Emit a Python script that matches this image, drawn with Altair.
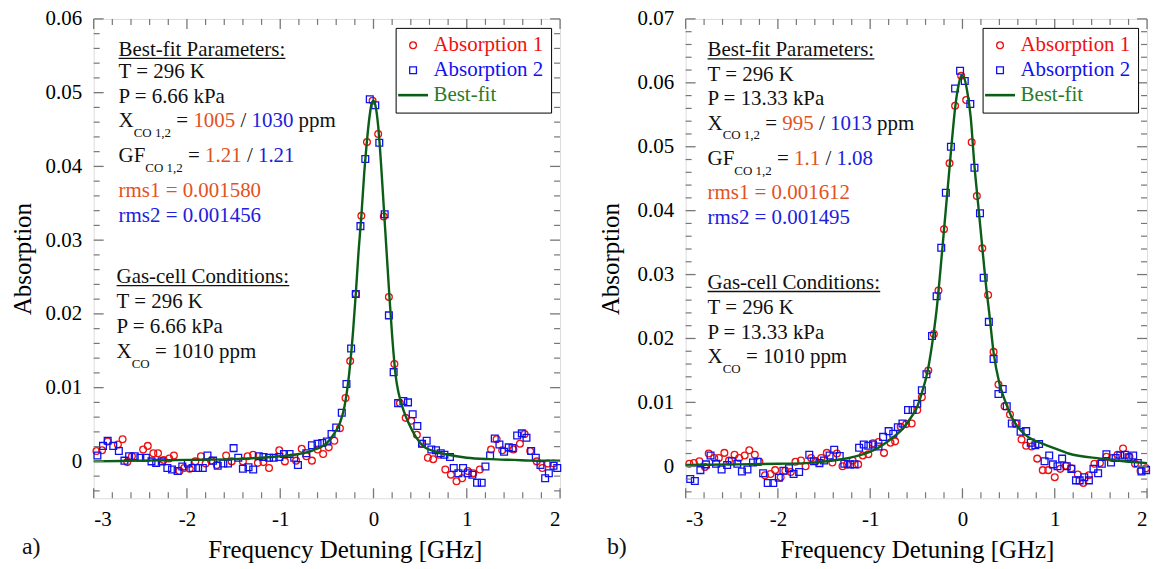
import altair as alt
import pandas as pd

# ---------------- data ----------------
# Panel a)  P = 6.66 kPa
a_abs1_x = [-2.97, -2.91, -2.85, -2.74, -2.69, -2.64, -2.59, -2.47, -2.42, -2.36, -2.31, -2.25, -2.19, -2.14,
            -2.08, -2.03, -1.97, -1.91, -1.85, -1.80, -1.74, -1.68, -1.58, -1.52, -1.40, -1.35, -1.29, -1.24,
            -1.18, -1.12, -1.01, -0.95, -0.83, -0.77, -0.72, -0.66, -0.60, -0.54, -0.48, -0.42, -0.36, -0.30,
            -0.25, -0.19, -0.13, -0.07, -0.01, 0.05, 0.11, 0.165, 0.224, 0.283, 0.345, 0.405, 0.465, 0.52,
            0.583, 0.64, 0.70, 0.77, 0.83, 0.89, 0.95, 1.01, 1.07, 1.14, 1.26, 1.32, 1.38, 1.50, 1.57, 1.62,
            1.68, 1.75, 1.81, 1.87, 1.93]
a_abs1_y = [0.0014, 0.0015, 0.0027, 0.0023, 0.0030, -0.0001, 0.0007, 0.0016, 0.0021, 0.0011, 0.0011, 0.0002,
            0.0004, 0.0008, -0.0013, -0.0009, -0.0010, 0.0000, 0.0007, -0.0003, 0.0001, -0.0005, 0.0008, 0.0000,
            0.0000, 0.0007, 0.0009, -0.0002, -0.0001, -0.0009, 0.0015, 0.0000, 0.0001, 0.0017, 0.0007, 0.0001,
            0.0016, 0.0010, 0.0019, 0.0028, 0.0045, 0.0086, 0.0136, 0.0227, 0.0333, 0.0433, 0.0489, 0.0444,
            0.0332, 0.0223, 0.0132, 0.0079, 0.0059, 0.0055, 0.0036, 0.0024, 0.0005, 0.0003, 0.0009, -0.0011,
            -0.0018, -0.0027, -0.0023, -0.0013, -0.0016, -0.0011, 0.0016, 0.0030, 0.0015, 0.0016, 0.0024,
            0.0037, 0.0014, 0.0000, -0.0009, -0.0003, -0.0003]
a_abs2_x = [-2.96, -2.90, -2.85, -2.79, -2.73, -2.67, -2.62, -2.56, -2.50, -2.44, -2.38, -2.33, -2.27, -2.21,
            -2.16, -2.10, -2.05, -1.99, -1.94, -1.88, -1.83, -1.78, -1.72, -1.67, -1.61, -1.56, -1.50, -1.45,
            -1.40, -1.34, -1.29, -1.23, -1.18, -1.12, -1.07, -1.01, -0.96, -0.90, -0.85, -0.81, -0.72, -0.66,
            -0.60, -0.55, -0.50, -0.45, -0.40, -0.34, -0.29, -0.24, -0.19, -0.14, -0.088, -0.04, 0.019, 0.062,
            0.12, 0.165, 0.216, 0.264, 0.32, 0.37, 0.42, 0.47, 0.52, 0.57, 0.62, 0.67, 0.72, 0.76, 0.82, 0.86,
            0.91, 0.96, 1.01, 1.06, 1.11, 1.16, 1.20, 1.25, 1.30, 1.35, 1.40, 1.45, 1.49, 1.54, 1.59, 1.64,
            1.69, 1.74, 1.79, 1.84, 1.88, 1.93, 1.97]
a_abs2_y = [0.0008, 0.0021, 0.0028, 0.0021, 0.0014, 0.0001, 0.0007, 0.0007, 0.0005, 0.0005, 0.0000, -0.0002,
            0.0000, -0.0009, -0.0011, -0.0013, -0.0007, -0.0003, -0.0009, -0.0009, -0.0009, 0.0008, 0.0001,
            -0.0006, -0.0003, -0.0003, 0.0018, 0.0005, -0.0010, -0.0008, -0.0011, 0.0007, 0.0006, 0.0005,
            0.0005, 0.0006, 0.0010, 0.0010, 0.0005, -0.0005, 0.0011, 0.0022, 0.0024, 0.0025, 0.0027, 0.0037,
            0.0046, 0.0066, 0.0105, 0.0153, 0.0227, 0.0319, 0.0410, 0.0491, 0.0483, 0.0432, 0.0335, 0.0198,
            0.0121, 0.0079, 0.0082, 0.0080, 0.0064, 0.0048, 0.0024, 0.0028, 0.0016, 0.0015, 0.0011, 0.0009,
            0.0006, -0.0009, -0.0016, -0.0009, -0.0016, -0.0018, -0.0029, -0.0029, -0.0007, 0.0008, 0.0031,
            0.0023, 0.0013, 0.0019, 0.0018, 0.0035, 0.0038, 0.0032, 0.0014, 0.0005, -0.0005, -0.0023, -0.0016,
            -0.0006, -0.0009]
a_fit_x = [-3.0, -2.5, -2.0, -1.5, -1.2, -1.0, -0.8, -0.65, -0.5, -0.42, -0.36, -0.31, -0.26, -0.22, -0.19,
           -0.16, -0.13, -0.1, -0.07, -0.04, -0.02, 0.0, 0.02, 0.05, 0.08, 0.11, 0.14, 0.17, 0.2, 0.24, 0.27,
           0.32, 0.38, 0.45, 0.55, 0.65, 0.8, 1.0, 1.25, 1.5, 1.75, 2.0]
a_fit_y = [0.0000, 0.0001, 0.0002, 0.0003, 0.0005, 0.0007, 0.0010, 0.0015, 0.0025, 0.0038, 0.0052, 0.0075,
           0.0120, 0.0175, 0.0227, 0.0285, 0.0333, 0.0390, 0.0435, 0.0470, 0.0485, 0.0489, 0.0483, 0.0455,
           0.0405, 0.0345, 0.0285, 0.0225, 0.0170, 0.0114, 0.0092, 0.0070, 0.0051, 0.0034, 0.0019, 0.0014,
           0.0009, 0.0005, 0.0003, 0.0002, 0.0001, 0.0001]

# Panel b)  P = 13.33 kPa
b_abs1_x = [-2.96, -2.91, -2.85, -2.79, -2.75, -2.69, -2.64, -2.58, -2.53, -2.47, -2.42, -2.36, -2.31, -2.25,
            -2.20, -2.14, -2.08, -2.03, -1.97, -1.92, -1.86, -1.81, -1.75, -1.70, -1.64, -1.59, -1.53, -1.47,
            -1.41, -1.36, -1.30, -1.25, -1.19, -1.13, -1.08, -1.02, -0.97, -0.91, -0.85, -0.78, -0.73, -0.67,
            -0.61, -0.55, -0.49, -0.44, -0.37, -0.31, -0.26, -0.20, -0.14, -0.08, -0.014, 0.04, 0.10, 0.156,
            0.215, 0.278, 0.337, 0.39, 0.456, 0.515, 0.574, 0.64, 0.69, 0.75, 0.81, 0.87, 0.93, 1.00, 1.06,
            1.12, 1.18, 1.25, 1.31, 1.37, 1.43, 1.49, 1.56, 1.62, 1.68, 1.74, 1.81, 1.87, 1.93, 1.99]
b_abs1_y = [0.0004, 0.0005, 0.0008, -0.0001, 0.0020, 0.0013, 0.0013, 0.0021, 0.0009, 0.0018, 0.0013, 0.0017,
            0.0025, 0.0018, 0.0007, -0.0014, -0.0012, -0.0006, -0.0017, -0.0007, -0.0009, 0.0007, 0.0009,
            0.0000, 0.0013, 0.0008, 0.0013, 0.0021, 0.0006, 0.0020, 0.0000, 0.0003, 0.0009, 0.0003, 0.0017,
            0.0019, 0.0036, 0.0038, 0.0021, 0.0037, 0.0039, 0.0062, 0.0066, 0.0067, 0.0088, 0.0108, 0.0150,
            0.0207, 0.0275, 0.0371, 0.0474, 0.0564, 0.0611, 0.0573, 0.0507, 0.0423, 0.0341, 0.0268, 0.0179,
            0.0128, 0.0094, 0.0081, 0.0067, 0.0042, 0.0032, 0.0031, 0.0012, -0.0006, -0.0006, -0.0017,
            -0.0004, 0.0001, -0.0003, -0.0013, -0.0026, -0.0014, 0.0004, 0.0005, 0.0015, 0.0013, 0.0018,
            0.0028, 0.0015, 0.0004, -0.0007, -0.0003]
b_abs2_x = [-2.95, -2.90, -2.84, -2.78, -2.73, -2.67, -2.61, -2.55, -2.50, -2.44, -2.39, -2.33, -2.27, -2.22,
            -2.16, -2.11, -2.05, -1.99, -1.94, -1.88, -1.83, -1.77, -1.66, -1.61, -1.55, -1.50, -1.44, -1.39,
            -1.33, -1.28, -1.22, -1.17, -1.12, -1.07, -1.02, -0.97, -0.91, -0.86, -0.80, -0.75, -0.70, -0.65,
            -0.59, -0.54, -0.49, -0.44, -0.39, -0.33, -0.28, -0.23, -0.18, -0.125, -0.08, -0.026, 0.025, 0.085,
            0.13, 0.19, 0.23, 0.286, 0.337, 0.39, 0.436, 0.48, 0.535, 0.586, 0.63, 0.69, 0.74, 0.79, 0.83,
            0.89, 0.94, 0.98, 1.03, 1.08, 1.13, 1.18, 1.23, 1.27, 1.32, 1.37, 1.42, 1.47, 1.51, 1.56, 1.61,
            1.66, 1.71, 1.76, 1.80, 1.85, 1.90, 1.94, 1.99]
b_abs2_y = [-0.0020, -0.0023, -0.0006, 0.0003, 0.0017, 0.0004, -0.0005, 0.0002, 0.0008, 0.0004, -0.0008,
            -0.0005, 0.0006, 0.0007, -0.0011, -0.0026, -0.0026, -0.0018, -0.0007, -0.0003, -0.0012, -0.0009,
            0.0018, 0.0008, 0.0005, 0.0009, 0.0017, 0.0026, 0.0016, 0.0004, 0.0003, 0.0003, 0.0029, 0.0034,
            0.0032, 0.0034, 0.0031, 0.0046, 0.0055, 0.0051, 0.0061, 0.0067, 0.0088, 0.0088, 0.0098, 0.0119,
            0.0144, 0.0204, 0.0266, 0.0342, 0.0428, 0.0500, 0.0591, 0.0619, 0.0603, 0.0567, 0.0467, 0.0396,
            0.0295, 0.0226, 0.0168, 0.0113, 0.0121, 0.0094, 0.0067, 0.0067, 0.0054, 0.0055, 0.0037, 0.0033,
            0.0035, 0.0008, 0.0017, 0.0003, 0.0000, 0.0012, 0.0000, -0.0004, -0.0022, -0.0022, -0.0017,
            -0.0022, -0.0004, -0.0011, 0.0004, 0.0019, 0.0006, 0.0013, 0.0017, 0.0018, 0.0014, 0.0017, 0.0005,
            -0.0008, -0.0006]
b_fit_x = [-3.0, -2.5, -2.0, -1.7, -1.4, -1.1, -0.95, -0.8, -0.72, -0.64, -0.56, -0.5, -0.44, -0.38, -0.33,
           -0.28, -0.24, -0.2, -0.16, -0.12, -0.08, -0.04, -0.01, 0.02, 0.05, 0.09, 0.13, 0.17, 0.21, 0.25, 0.29,
           0.34, 0.4, 0.46, 0.53, 0.62, 0.72, 0.86, 1.0, 1.15, 1.5, 1.75, 2.0]
b_fit_y = [0.0002, 0.0003, 0.0004, 0.0005, 0.0009, 0.0018, 0.0026, 0.0040, 0.0049, 0.0060, 0.0076, 0.0090,
           0.0115, 0.0147, 0.0190, 0.0245, 0.0305, 0.0370, 0.0435, 0.0500, 0.0560, 0.0598, 0.0612, 0.0607,
           0.0588, 0.0545, 0.0470, 0.0410, 0.0350, 0.0290, 0.0240, 0.0175, 0.0130, 0.0103, 0.0078, 0.0058,
           0.0045, 0.0036, 0.0028, 0.0020, 0.0012, 0.0008, 0.0005]

series_names = ["Absorption 1", "Absorption 2", "Best-fit"]
x_major = [-3, -2, -1, 0, 1, 2]
x_minor = [-2.8, -2.6, -2.4, -2.2, -1.8, -1.6, -1.4, -1.2, -0.8, -0.6, -0.4, -0.2,
           0.2, 0.4, 0.6, 0.8, 1.2, 1.4, 1.6, 1.8]
a_y_major = [0, 0.01, 0.02, 0.03, 0.04, 0.05, 0.06]
b_y_major = [0, 0.01, 0.02, 0.03, 0.04, 0.05, 0.06, 0.07]
a_y_minor = [v / 1000 for v in range(-4, 60, 2) if v % 10]
b_y_minor = [v / 1000 for v in range(-4, 70, 2) if v % 10]

# ---------------- styling ----------------
FONT = "Liberation Serif"
RED, BLUE, GREEN = "#ee1111", "#1111ee", "#0b5e17"
TXT_OR, TXT_BL, BLACK = "#e2521d", "#2020dd", "#111111"
TICK = "#777777"

CW = {' ': 250, '-': 333, ',': 250, '.': 250, '/': 278, ':': 278, '=': 564, ')': 333,
      'B': 667, 'C': 667, 'F': 556, 'G': 722, 'K': 722, 'O': 722, 'P': 556, 'T': 611, 'X': 722,
      'a': 444, 'b': 500, 'c': 444, 'd': 500, 'e': 444, 'f': 333, 'g': 500, 'i': 278, 'k': 500,
      'l': 278, 'm': 778, 'n': 500, 'o': 500, 'p': 500, 'r': 333, 's': 389, 't': 278, 'u': 500}


def tw(s, size):
    return sum(CW.get(ch, 500) for ch in s) * size / 1000.0


ONE = alt.Data(values=[{}])


def text_mark(t, x, y, size, color, align="left"):
    return alt.Chart(ONE).mark_text(align=align, baseline="alphabetic", font=FONT, fontSize=size,
                                    color=color).encode(x=alt.value(x), y=alt.value(y), text=alt.value(t))


def text_line(segs, x0, y, underline=False):
    out = []
    x = x0
    for seg in segs:
        t, c = seg[0], seg[1]
        sub = len(seg) > 2
        size = 13 if sub else 21
        yy = y + (10 if sub else 0)
        lead = len(t) - len(t.lstrip(' '))
        if t.strip():
            out.append(text_mark(t.strip(), x + tw(' ' * lead, size), yy, size, c))
        x += tw(t, size)
    if underline:
        out.append(alt.Chart(ONE).mark_rule(color=BLACK, strokeWidth=1.4).encode(
            x=alt.value(x0), x2=alt.value(x), y=alt.value(y + 2.6)))
    return out


LEG_COLOR = ("datum.label == 'Absorption 1' ? '%s' : datum.label == 'Absorption 2' ? '%s' : '#2a7a2a'"
             % (RED, BLUE))


def panel(r_x, r_y, b_x, b_y, f_x, f_y, ydom, ymaj, ymin, W, H, lines, tag, tag_x, title_pad, title_x):
    pts = pd.DataFrame({"x": r_x + b_x, "y": r_y + b_y,
                        "series": [series_names[0]] * len(r_x) + [series_names[1]] * len(b_x)})
    fit = pd.DataFrame({"x": f_x, "y": f_y})
    xs = alt.Scale(domain=[-3, 2], nice=False, zero=False)
    ys = alt.Scale(domain=ydom, nice=False, zero=False)
    leg = alt.Legend(title=None, orient="top-right", offset=9, strokeColor="black", fillColor="white",
                     padding=7, labelFont=FONT, labelFontSize=21, labelOffset=10, rowPadding=3,
                     labelColor={"expr": LEG_COLOR},
                     symbolSize={"expr": "datum.label == 'Best-fit' ? 900 : 46"},
                     symbolStrokeWidth={"expr": "datum.label == 'Best-fit' ? 2.6 : 1.3"})
    xaxis = alt.Axis(values=x_major, labelExpr="datum.value + ''", ticks=False, domain=False, grid=False,
                     labelFont=FONT, labelFontSize=21, labelColor="black", labelPadding=10,
                     title="Frequency Detuning [GHz]", titleFont=FONT, titleFontSize=25,
                     titleFontWeight="normal", titleColor="black", titlePadding=8, titleX=title_x)
    yaxis = alt.Axis(values=ymaj, labelExpr="datum.value == 0 ? '0' : format(datum.value, '.2f')",
                     ticks=False, domain=False, grid=False, labelFont=FONT, labelFontSize=21,
                     labelColor="black", labelPadding=12, title="Absorption", titleFont=FONT,
                     titleFontSize=25, titleFontWeight="normal", titleColor="black", titlePadding=title_pad)
    points = alt.Chart(pts).mark_point(filled=False, opacity=1, size=46, strokeWidth=1.3).encode(
        x=alt.X("x:Q", scale=xs, axis=xaxis, title="Frequency Detuning [GHz]"),
        y=alt.Y("y:Q", scale=ys, axis=yaxis, title="Absorption"),
        color=alt.Color("series:N", scale=alt.Scale(domain=series_names, range=[RED, BLUE, GREEN]), legend=leg),
        shape=alt.Shape("series:N", scale=alt.Scale(domain=series_names, range=["circle", "square", "stroke"]), legend=leg),
    )
    line = alt.Chart(fit).mark_line(color=GREEN, strokeWidth=2.4, interpolate="monotone").encode(
        x=alt.X("x:Q", scale=xs, title="Frequency Detuning [GHz]"),
        y=alt.Y("y:Q", scale=ys, title="Absorption"))

    def xt(vals, y1, y2, sw):
        return alt.Chart(pd.DataFrame({"x": vals})).mark_rule(color=TICK, strokeWidth=sw).encode(
            x=alt.X("x:Q", scale=xs, title="Frequency Detuning [GHz]"), y=alt.value(y1), y2=alt.value(y2))

    def yt(vals, x1, x2, sw):
        return alt.Chart(pd.DataFrame({"y": vals})).mark_rule(color=TICK, strokeWidth=sw).encode(
            y=alt.Y("y:Q", scale=ys, title="Absorption"), x=alt.value(x1), x2=alt.value(x2))

    ticks = [xt(x_major, H, H - 10, 1.3), xt(x_minor, H, H - 6, 1.2),
             xt(x_major, 0, 10, 1.3), xt(x_minor, 0, 6, 1.2),
             yt(ymaj, 0, 10, 1.3), yt(ymin, 0, 6, 1.2),
             yt(ymaj, W, W - 10, 1.3), yt(ymin, W, W - 6, 1.2)]
    texts = []
    for segs, x0, y, ul in lines:
        texts += text_line(segs, x0, y, ul)
    texts.append(text_mark(tag, tag_x, H + 56, 24, BLACK))
    return alt.layer(points, line, *ticks, *texts).properties(width=W, height=H)


H = 481
a_lines = [
    ([("Best-fit Parameters:", BLACK)], 25, 37, True),
    ([("T = 296 K", BLACK)], 25, 59, False),
    ([("P = 6.66 kPa", BLACK)], 25, 84, False),
    ([("X", BLACK), ("CO 1,2", BLACK, 1), (" = ", BLACK), ("1005", TXT_OR), (" / ", BLACK), ("1030", TXT_BL),
      (" ppm", BLACK)], 25, 108.5, False),
    ([("GF", BLACK), ("CO 1,2", BLACK, 1), (" = ", BLACK), ("1.21", TXT_OR), (" / ", BLACK), ("1.21", TXT_BL)],
     25, 143.5, False),
    ([("rms1 = 0.001580", TXT_OR)], 25, 179, False),
    ([("rms2 = 0.001456", TXT_BL)], 25, 203.5, False),
    ([("Gas-cell Conditions:", BLACK)], 23, 265, True),
    ([("T = 296 K", BLACK)], 23, 290.5, False),
    ([("P = 6.66 kPa", BLACK)], 23, 315.5, False),
    ([("X", BLACK), ("CO", BLACK, 1), (" = 1010 ppm", BLACK)], 23, 340, False),
]
b_lines = [
    ([("Best-fit Parameters:", BLACK)], 22, 37.5, True),
    ([("T = 296 K", BLACK)], 22, 62, False),
    ([("P = 13.33 kPa", BLACK)], 22, 86, False),
    ([("X", BLACK), ("CO 1,2", BLACK, 1), (" = ", BLACK), ("995", TXT_OR), (" / ", BLACK), ("1013", TXT_BL),
      (" ppm", BLACK)], 22, 111, False),
    ([("GF", BLACK), ("CO 1,2", BLACK, 1), (" = ", BLACK), ("1.1", TXT_OR), (" / ", BLACK), ("1.08", TXT_BL)],
     22, 146.5, False),
    ([("rms1 = 0.001612", TXT_OR)], 22, 181, False),
    ([("rms2 = 0.001495", TXT_BL)], 22, 206, False),
    ([("Gas-cell Conditions:", BLACK)], 22, 271, True),
    ([("T = 296 K", BLACK)], 22, 296, False),
    ([("P = 13.33 kPa", BLACK)], 22, 321, False),
    ([("X", BLACK), ("CO", BLACK, 1), (" = 1010 ppm", BLACK)], 22, 345, False),
]

left = panel(a_abs1_x, a_abs1_y, a_abs2_x, a_abs2_y, a_fit_x, a_fit_y, [-0.005, 0.06], a_y_major, a_y_minor,
             468, H, a_lines, "a)", -72, 10, 252)
right = panel(b_abs1_x, b_abs1_y, b_abs2_x, b_abs2_y, b_fit_x, b_fit_y, [-0.005, 0.07], b_y_major, b_y_minor,
              463, H, b_lines, "b)", -79, 14, 232)

chart = alt.hconcat(left, right, spacing=31).resolve_scale(
    color="independent", shape="independent"
).resolve_legend(
    color="independent", shape="independent"
).properties(
    padding={"left": 9, "top": 6, "right": 0, "bottom": 2}
).configure_view(stroke="#666666", strokeWidth=1.6).configure(background="white")

chart.save("out.html", embed_options={"renderer": "svg", "actions": False})
